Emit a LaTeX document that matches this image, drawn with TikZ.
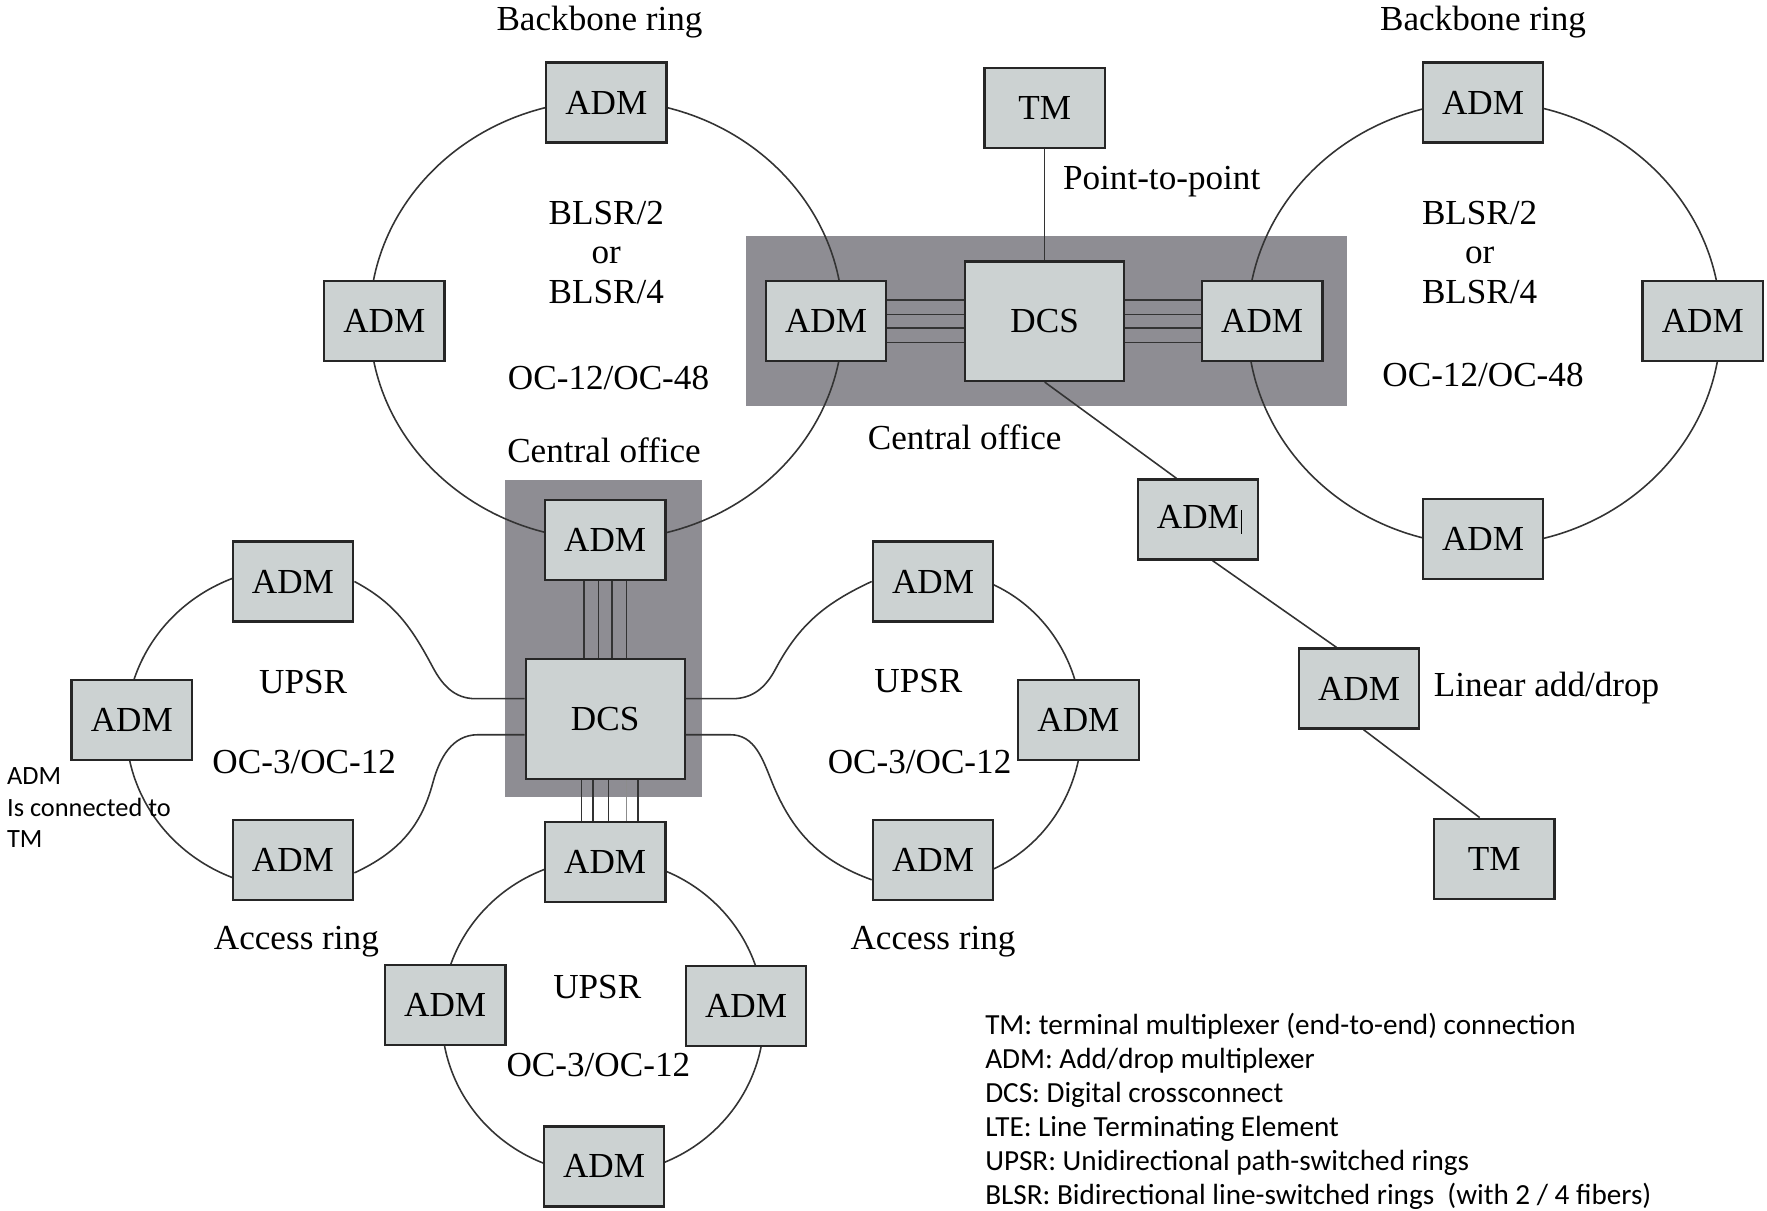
\documentclass[tikz,border=0pt]{standalone}
\usepackage{fontspec}
\setmainfont{Liberation Serif}
\newfontfamily\notefont{Carlito}
\usepackage{tikz}
\usetikzlibrary{calc,backgrounds}
\definecolor{boxgray}{RGB}{204,210,210}
\definecolor{officegray}{RGB}{142,141,147}

\begin{document}
\begin{tikzpicture}[x=0.022538cm, y=-0.022538cm,
  font=\fontsize{20}{22.4}\selectfont,
  every node/.append style={inner sep=0pt},
  netbox/.style={draw=black!85, line width=1.3pt, fill=boxgray, minimum width=2.41cm, minimum height=1.6cm},
  xcbox/.style={netbox, minimum width=3.18cm, minimum height=2.39cm},
  ring/.style={draw=black!80, line width=0.9pt},
  note/.style={font=\notefont\fontsize{16.6}{19.2}\selectfont, anchor=base west}]
\useasboundingbox (0,0) rectangle (1568,1074);

\node (bbtxtl) at (532,20) {Backbone ring};
\node[netbox] (bl1) at (538,91) {ADM};
\node[netbox] (bl2) at (341,285) {ADM};
\node[align=center] (blsrl) at (538,224) {BLSR/2\\or\\BLSR/4};
\node (ocl) at (540,335) {OC-12/OC-48};

\node[netbox] (tm1) at (927,96) {TM};
\node[anchor=west] (p2p) at (943,161) {Point-to-point};
\node[netbox] (co1) at (733,285) {ADM};
\node[xcbox] (dcs1) at (927,285) {DCS};
\node[netbox] (co2) at (1120,285) {ADM};
\node (cotxt1) at (856,388) {Central office};

\node (bbtxtr) at (1316,20) {Backbone ring};
\node[netbox] (br1) at (1316,91) {ADM};
\node[netbox] (br2) at (1511,285) {ADM};
\node[netbox] (br3) at (1316,478) {ADM};
\node[align=center] (blsrr) at (1313,224) {BLSR/2\\or\\BLSR/4};
\node (ocr) at (1316,333) {OC-12/OC-48};

\node[netbox] (lx1) at (1063,461) {ADM\rlap{\kern1.3pt\rule[-2.8pt]{0.6pt}{13.3pt}}};
\node[netbox] (lx2) at (1206,611) {ADM};
\node[anchor=west] (lintxt) at (1272,611) {Linear add/drop};
\node[netbox] (tm2) at (1326,762) {TM};

\node (cotxt2) at (536,400) {Central office};
\node[netbox] (co3) at (537,479) {ADM};
\node[xcbox] (dcs2) at (537,638) {DCS};

\node[netbox] (al1) at (260,516) {ADM};
\node[netbox] (al2) at (117,639) {ADM};
\node[netbox] (al3) at (260,763) {ADM};
\node (upsrl) at (269,605) {UPSR};
\node (ocal) at (270,676) {OC-3/OC-12};
\node (acctxtl) at (263,836) {Access ring};

\node[netbox] (ar1) at (828,516) {ADM};
\node[netbox] (ar2) at (957,639) {ADM};
\node[netbox] (ar3) at (828,763) {ADM};
\node (upsrr) at (815,604) {UPSR};
\node (ocar) at (816,676) {OC-3/OC-12};
\node (acctxtr) at (828,836) {Access ring};

\node[netbox] (ab1) at (537,765) {ADM};
\node[netbox] (ab2) at (395,892) {ADM};
\node[netbox] (ab3) at (662,893) {ADM};
\node[netbox] (ab4) at (536,1035) {ADM};
\node (upsrb) at (530,876) {UPSR};
\node (ocab) at (531,945) {OC-3/OC-12};

\node[note, font=\notefont\fontsize{15}{17.9}\selectfont, anchor=north west, align=left] (tmnote) at (6,681) {ADM\\Is connected to\\TM};
\foreach \txt [count=\i] in {TM: terminal multiplexer (end-to-end) connection,
  ADM: Add/drop multiplexer, DCS: Digital crossconnect, LTE: Line Terminating Element,
  UPSR: Unidirectional path-switched rings,
  BLSR: Bidirectional line-switched rings~ (with 2 / 4 fibers)}
  \node[note] (leg\i) at (874,{888+30.2*\i}) {\txt};

\begin{scope}[on background layer]
\fill[officegray] (662,209) rectangle (1195,360);
\fill[officegray] (448,426) rectangle (623,707);
\draw[ring] (538,284) ellipse [x radius=210, y radius=195];
\draw[ring] (1317,287) ellipse [x radius=210, y radius=197];
\draw[ring] (535,902) ellipse [x radius=143, y radius=140];
\draw[ring] (262,646) ++(250:150 and 143) arc[start angle=250, end angle=110, x radius=150, y radius=143];
\draw[ring] (828,645) ++(-70:132 and 138) arc[start angle=-70, end angle=70, x radius=132, y radius=138];
\draw[ring] (al1.east) to[out=-28, in=118] (384,592) to[out=-62, in=180] (422,620) -- ($(dcs2.west)+(0,-18)$);
\draw[ring] (al3.-12) to[out=25, in=-105] (384,695) to[out=75, in=180] (424,652) -- ($(dcs2.west)+(0,14)$);
\draw[ring] (ar1.west) to[out=-155, in=62] (688,594) to[out=-118, in=0] (650,620) -- ($(dcs2.east)+(0,-18)$);
\draw[ring] (ar3.198) to[out=160, in=-68] (685,694) to[out=112, in=0] (648,652) -- ($(dcs2.east)+(0,14)$);
\foreach \d in {-19,-6,6,19} {
  \draw[ring] ($(co1.east)+(0,\d)$) -- ($(dcs1.west)+(0,\d)$);
  \draw[ring] ($(dcs1.east)+(0,\d)$) -- ($(co2.west)+(0,\d)$);
  \draw[ring] ($(co3.south)+(\d,0)$) -- ($(dcs2.north)+(\d,0)$);
}
\foreach \d/\c in {-21/black!80,-11/black!80,3/black!80,19/black!45,29/black!80}
  \draw[ring, draw=\c] ($(dcs2.south)+(\d,0)$) -- ($(ab1.north)+(\d,0)$);
\draw[ring] (tm1) -- (dcs1);
\draw[ring] (dcs1.south) -- ($(lx1.north)+(-19,0)$);
\draw[ring] ($(lx1.south)+(13,0)$) -- ($(lx2.north)+(-20,0)$);
\draw[ring] ($(lx2.south)+(4,0)$) -- ($(tm2.north)+(-13,0)$);
\end{scope}
\end{tikzpicture}
\end{document}
